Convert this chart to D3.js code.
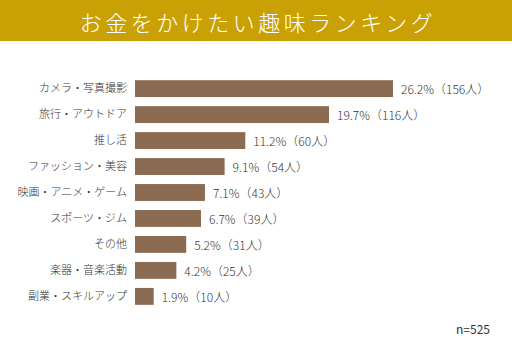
<!DOCTYPE html>
<html>
<head>
<meta charset="utf-8">
<script src="https://cdn.jsdelivr.net/npm/d3@7"></script>
<style>
  body { margin: 0; background: #fff; }
  svg { display: block; font-family: "Noto Sans CJK JP", "Noto Sans", sans-serif; }
</style>
</head>
<body>
<div id="chart"></div>
<script>
var titleText = "お金をかけたい趣味ランキング";
var categories = ["カメラ・写真撮影", "旅行・アウトドア", "推し活", "ファッション・美容", "映画・アニメ・ゲーム", "スポーツ・ジム", "その他", "楽器・音楽活動", "副業・スキルアップ"];
var percents = [26.2, 19.7, 11.2, 9.1, 7.1, 6.7, 5.2, 4.2, 1.9];
var counts = [156, 116, 60, 54, 43, 39, 31, 25, 10];
var sampleNote = "n=525";

var w = 512, h = 354;
var svg = d3.select("#chart").append("svg")
  .attr("width", w)
  .attr("height", h);

// title band
svg.append("rect")
  .attr("x", 0).attr("y", 0)
  .attr("width", w).attr("height", 41)
  .attr("fill", "#c9a104");

svg.append("text")
  .attr("x", w / 2 + 2).attr("y", 21)
  .attr("text-anchor", "middle")
  .attr("dominant-baseline", "central")
  .attr("fill", "#fff")
  .attr("font-size", 22)
  .attr("font-weight", 300)
  .attr("letter-spacing", 3.5)
  .text(titleText);

var data = categories.map(function(c, i) {
  return { name: c, pct: percents[i], n: counts[i] };
});

var x = d3.scaleLinear().domain([0, 26.2]).range([135, 393]);
var y = d3.scaleBand().domain(categories).range([75, 310]).paddingInner(0.35).paddingOuter(0.2);

svg.append("g")
  .selectAll("rect")
  .data(data)
  .enter().append("rect")
  .attr("x", x(0))
  .attr("y", function(d) { return y(d.name); })
  .attr("width", function(d) { return x(d.pct) - x(0); })
  .attr("height", y.bandwidth())
  .attr("fill", "#8b6b52");

var yAxis = svg.append("g")
  .attr("transform", "translate(" + x(0) + ",0)")
  .call(d3.axisLeft(y).tickSize(0).tickPadding(8));
yAxis.select(".domain").remove();
yAxis.selectAll("text")
  .attr("font-size", 11)
  .attr("fill", "#333")
  .attr("font-weight", 300)
  .style("font-family", "'Noto Sans CJK JP', sans-serif");

svg.append("g")
  .selectAll("text")
  .data(data)
  .enter().append("text")
  .attr("x", function(d) { return x(d.pct) + 8; })
  .attr("y", function(d) { return y(d.name) + y.bandwidth() / 2; })
  .attr("dominant-baseline", "central")
  .attr("font-size", 12)
  .attr("font-weight", 300)
  .attr("fill", "#333")
  .text(function(d) { return d.pct.toFixed(1) + "%（" + d.n + "人）"; });

svg.append("text")
  .attr("x", 490).attr("y", 328)
  .attr("text-anchor", "end")
  .attr("dominant-baseline", "central")
  .attr("font-size", 12)
  .attr("fill", "#333")
  .text(sampleNote);
</script>
</body>
</html>
